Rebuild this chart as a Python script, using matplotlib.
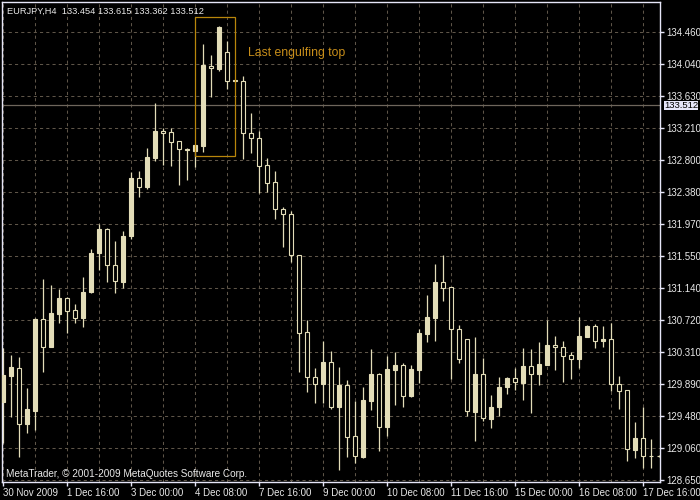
"""EURJPY H4 candlestick chart, MetaTrader style."""

import matplotlib
matplotlib.use("Agg")
import matplotlib.pyplot as plt
import matplotlib.transforms as mtransforms
from matplotlib.patches import Rectangle
import numpy as np

symbol_title = "EURJPY,H4  133.454 133.615 133.362 133.512"
copyright_text = "MetaTrader, © 2001-2009 MetaQuotes Software Corp."
bid_price = 133.512

# OHLC per H4 bar
opens = [129.665, 130.002, 130.106, 129.380, 129.548, 130.742, 130.378, 130.806, 131.014, 130.858,
         130.755, 131.092, 131.598, 131.909, 131.442, 131.221, 131.818, 132.570, 132.454, 132.830,
         133.180, 133.167, 133.050, 132.933, 132.921, 132.985, 134.023, 133.984, 134.205, 133.828,
         133.828, 133.154, 133.089, 132.739, 132.518, 132.168, 132.103, 131.572, 130.573, 129.989,
         129.899, 130.184, 129.600, 129.886, 129.224, 128.952, 129.678, 130.028, 129.341, 130.080,
         130.145, 129.743, 130.080, 130.547, 130.755, 131.221, 131.157, 130.612, 130.482, 129.535,
         130.028, 129.445, 129.600, 129.860, 129.976, 129.911, 130.132, 130.028, 130.145, 130.404,
         130.378, 130.275, 130.223, 130.508, 130.651, 130.456, 130.482, 129.899, 129.821, 129.042,
         129.198, 128.965, 128.965]
highs = [130.365, 130.275, 130.249, 129.847, 130.755, 131.260, 131.183, 131.131, 131.027, 130.936,
         131.286, 131.649, 131.974, 131.922, 131.753, 131.883, 132.648, 132.661, 132.959, 133.543,
         133.219, 133.219, 133.050, 132.959, 132.998, 134.308, 134.166, 134.542, 134.347, 133.841,
         133.893, 133.413, 133.180, 132.830, 132.661, 132.194, 132.142, 131.572, 130.729, 130.106,
         130.456, 130.327, 130.119, 129.950, 129.678, 129.860, 130.352, 130.041, 130.262, 130.314,
         130.171, 130.145, 130.612, 131.053, 131.455, 131.572, 131.157, 130.664, 130.482, 130.508,
         130.236, 129.756, 129.989, 129.989, 130.106, 130.365, 130.352, 130.443, 130.729, 130.521,
         130.456, 130.314, 130.768, 130.664, 130.677, 130.651, 130.690, 130.002, 129.821, 129.406,
         129.600, 129.185, 128.978]
lows = [129.133, 129.471, 128.952, 129.263, 129.302, 130.054, 130.378, 130.690, 130.560, 130.690,
        130.638, 131.079, 131.377, 131.221, 131.079, 131.144, 131.779, 132.324, 132.428, 132.791,
        132.739, 132.726, 132.480, 132.544, 132.713, 132.908, 133.621, 133.958, 133.725, 133.815,
        132.817, 132.895, 132.376, 132.389, 132.039, 131.675, 131.481, 130.054, 129.795, 129.652,
        129.652, 129.574, 128.783, 128.952, 128.874, 128.939, 129.561, 129.030, 129.224, 129.626,
        129.600, 129.730, 129.911, 130.443, 130.456, 130.975, 129.963, 130.171, 129.484, 129.159,
        129.419, 129.328, 129.484, 129.769, 129.821, 129.691, 129.522, 129.886, 130.145, 130.080,
        129.924, 129.963, 130.106, 130.508, 130.365, 130.378, 129.808, 129.574, 128.900, 128.939,
        128.809, 128.809, 128.952]
closes = [130.015, 130.119, 129.380, 129.574, 130.742, 130.378, 130.819, 131.014, 130.845, 130.755,
          131.092, 131.598, 131.909, 131.442, 131.234, 131.818, 132.570, 132.454, 132.843, 133.180,
          133.154, 133.037, 132.946, 132.946, 132.998, 134.036, 133.997, 134.529, 133.828, 133.835,
          133.154, 133.089, 132.726, 132.505, 132.168, 132.103, 131.572, 130.560, 129.989, 129.899,
          130.184, 129.600, 129.886, 129.211, 128.965, 129.691, 130.028, 129.341, 130.093, 130.145,
          129.743, 130.093, 130.560, 130.768, 131.221, 131.144, 130.612, 130.223, 129.548, 130.028,
          129.458, 129.600, 129.860, 129.976, 129.924, 130.132, 130.028, 130.158, 130.404, 130.378,
          130.262, 130.223, 130.521, 130.651, 130.456, 130.482, 129.899, 129.808, 129.055, 129.198,
          128.965, 128.965, 128.965]

# time axis: one label every 8 bars, grid every 4 bars
time_labels = ["30 Nov 2009", "1 Dec 16:00", "3 Dec 00:00", "4 Dec 08:00", "7 Dec 16:00",
               "9 Dec 00:00", "10 Dec 08:00", "11 Dec 16:00", "15 Dec 00:00", "16 Dec 08:00",
               "17 Dec 16:00"]
time_label_step = 8
grid_step = 4
price_labels = ["128.650", "129.060", "129.480", "129.890", "130.310", "130.720", "131.140",
                "131.550", "131.970", "132.380", "132.800", "133.210", "133.630", "134.040",
                "134.460"]

# "Last engulfing top" rectangle object (bar indices and prices)
pattern_bars = (24, 29)
pattern_prices = (132.856, 134.655)
pattern_label = "Last engulfing top"
pattern_label_bar = 30.6
pattern_label_price = 134.192

candle_color = "#E3DDB8"
frame_color = "#E6E6F8"
grid_color = "#5E5548"
text_color = "#E8E8E8"
object_color = "#B8860B"

plt.rcParams["font.family"] = ["Liberation Sans", "DejaVu Sans"]

fig = plt.figure(figsize=(7, 5), dpi=100, facecolor="black")
ax = fig.add_axes([2 / 700, 18 / 500, 658 / 700, 480 / 500], facecolor="black")

n = len(opens)
x = np.arange(n)
o = np.array(opens)
c = np.array(closes)
bull = c >= o

ax.set_xlim(-0.1625, 82.09)
ax.set_ylim(128.627, 134.853)

# grid
tick_vals = np.linspace(float(price_labels[0]), float(price_labels[-1]), len(price_labels))
for xv in range(0, n, grid_step):
    ax.axvline(xv, color=grid_color, lw=0.75, ls=(0, (3, 3)), zorder=1)
for yv in tick_vals:
    ax.axhline(yv, color=grid_color, lw=0.75, ls=(0, (3, 3)), zorder=1)

# bid line
ax.axhline(bid_price, color="#6E665C", lw=0.9, zorder=1)

# candles
ax.vlines(x, lows, highs, color=candle_color, lw=0.9, zorder=2)
ax.bar(x, c - o, bottom=o, width=0.5,
       color=np.where(bull, candle_color, "black"),
       edgecolor=candle_color, linewidth=0.8, zorder=3)

# pattern rectangle and label
ax.add_patch(Rectangle((pattern_bars[0], pattern_prices[0]),
                       pattern_bars[1] - pattern_bars[0],
                       pattern_prices[1] - pattern_prices[0],
                       fill=False, edgecolor=object_color, lw=0.9, zorder=4))
ax.text(pattern_label_bar, pattern_label_price, pattern_label, color="#C88E1A",
        fontsize=8.8, ha="left", va="center", zorder=5)

# axes frame and ticks
for s in ax.spines.values():
    s.set_color(frame_color)
    s.set_linewidth(1)
ax.yaxis.tick_right()
ax.set_yticks(tick_vals)
ax.set_yticklabels(price_labels)
ax.set_xticks(np.arange(len(time_labels)) * time_label_step)
ax.set_xticklabels(time_labels)
for lab in ax.get_xticklabels():
    lab.set_ha("left")
ax.tick_params(axis="both", colors=frame_color, labelcolor=text_color, labelsize=7,
               length=3, width=1, direction="out")
ax.tick_params(axis="x", pad=1.5)
ax.tick_params(axis="y", pad=1.5)

# bid price tag on the price scale
trans = mtransforms.blended_transform_factory(ax.transAxes, ax.transData)
ax.text(1.006, bid_price, f"{bid_price:.3f}", transform=trans, fontsize=6.8, color="black",
        ha="left", va="center", clip_on=False,
        bbox=dict(boxstyle="square,pad=0.01", facecolor="#E6E6FA", edgecolor="none"))

fig.text(7 / 700, 1 - 11 / 500, symbol_title, color=text_color, fontsize=6.7, va="center")
fig.text(6 / 700, 1 - 474 / 500, copyright_text, color=text_color, fontsize=7.2, va="center")

fig.savefig("out.png", dpi=100, facecolor="black")
